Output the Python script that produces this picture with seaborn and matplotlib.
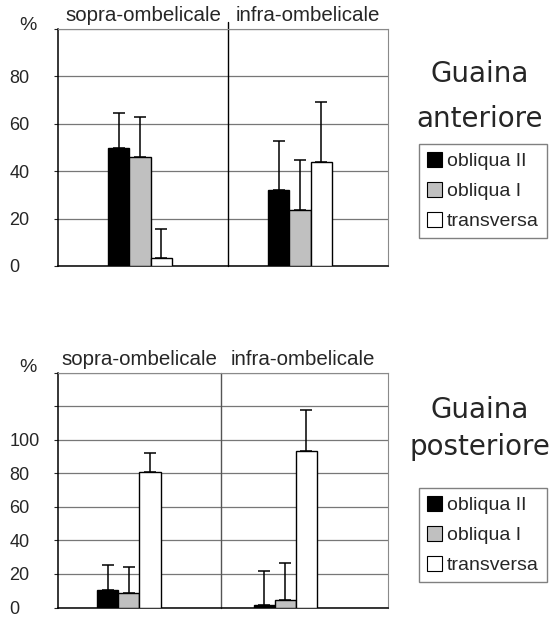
import matplotlib
matplotlib.use("Agg")
import matplotlib.pyplot as plt
import seaborn as sns
import pandas as pd
from matplotlib.patches import Patch

# ---- dati ----
regioni = ["sopra-ombelicale", "infra-ombelicale"]
fibre = ["obliqua II", "obliqua I", "transversa"]

# Guaina anteriore: % medie e deviazione (solo verso l'alto)
ant_sopra = [50.0, 46.0, 3.4]
ant_infra = [32.0, 23.7, 44.0]
ant_err_sopra = [14.5, 16.7, 12.2]
ant_err_infra = [20.7, 21.2, 25.0]

# Guaina posteriore
post_sopra = [10.4, 8.6, 80.6]
post_infra = [1.5, 4.7, 93.5]
post_err_sopra = [14.8, 15.8, 11.7]
post_err_infra = [20.4, 21.7, 24.0]

colori = {"obliqua II": "black", "obliqua I": "#c0c0c0", "transversa": "white"}

W, H = 559, 618

sns.set_style("white")
plt.rcParams["font.family"] = ["Liberation Sans", "DejaVu Sans"]


def crea_df(sopra, infra, err_s, err_i):
    righe = []
    for reg, vals, errs in [(regioni[0], sopra, err_s), (regioni[1], infra, err_i)]:
        for f, v, e in zip(fibre, vals, errs):
            righe.append({"regione": reg, "fibra": f, "valore": v, "err": e})
    return pd.DataFrame(righe)


def pannello(ax, df, ymax, ultimo_label, xlim, divisore, larghezza, div_colore, lab_x):
    sns.barplot(data=df, x="regione", y="valore", hue="fibra", order=regioni,
                hue_order=fibre, palette=colori, saturation=1, width=larghezza,
                gap=0, edgecolor="black", linewidth=1, errorbar=None,
                legend=False, ax=ax, zorder=3)
    # barre d'errore verso l'alto
    for cont, f in zip(ax.containers, fibre):
        for bar in cont:
            x = bar.get_x() + bar.get_width() / 2
            h = bar.get_height()
            reg = regioni[int(round(x))]
            e = df.loc[(df.regione == reg) & (df.fibra == f), "err"].iloc[0]
            ax.errorbar(x, h, yerr=[[0], [e]], fmt="none", ecolor="black",
                        elinewidth=1.1, capsize=4.2, capthick=1.1, zorder=4)

    ax.set_xlim(xlim)
    ax.set_ylim(0, ymax)
    ticks = list(range(0, ymax + 1, 20))
    ax.set_yticks(ticks)
    ax.set_yticklabels([str(t) if t <= ultimo_label else "" for t in ticks])
    ax.tick_params(axis="y", labelsize=13, length=3, width=0.8, pad=32,
                   direction="out", left=True)
    ax.set_xticks([])
    ax.set_xlabel("")
    ax.set_ylabel("")
    ax.yaxis.grid(True, color="#777777", lw=0.9)
    ax.set_axisbelow(True)
    for s in ["left", "bottom"]:
        ax.spines[s].set_color("black")
        ax.spines[s].set_linewidth(1.1)
    for s in ["top", "right"]:
        ax.spines[s].set_color("#8a8a8a")
        ax.spines[s].set_linewidth(0.8)
    ax.axvline(divisore, color=div_colore, lw=1, ymax=1.03 if div_colore == "black" else 1,
               clip_on=False, zorder=2)
    for reg, xx in zip(regioni, lab_x):
        ax.text(xx, 1.0 + 13.5 / 237, reg, transform=ax.transAxes, ha="center",
                va="center", fontsize=14.8)


fig = plt.figure(figsize=(W / 100, H / 100), dpi=100)

ax1 = fig.add_axes([58 / W, 1 - 266 / H, 330 / W, 237 / H])
pannello(ax1, crea_df(ant_sopra, ant_infra, ant_err_sopra, ant_err_infra),
         100, 80, (-0.5125, 1.55), 0.55, 0.394, "black", (0.258, 0.758))

ax2 = fig.add_axes([58 / W, 1 - 607.5 / H, 330 / W, 235 / H])
pannello(ax2, crea_df(post_sopra, post_infra, post_err_sopra, post_err_infra),
         140, 100, (-0.455, 1.66), 0.59, 0.404, "#555555", (0.247, 0.742))

# simbolo %
fig.text(28 / W, 1 - 25 / H, "%", ha="center", va="center", fontsize=14)
fig.text(28 / W, 1 - 367 / H, "%", ha="center", va="center", fontsize=14)

# titoli a destra
titolo_font = dict(ha="center", va="baseline", fontsize=20, family="DejaVu Sans")
fig.text(480 / W, 1 - 82 / H, "Guaina", **titolo_font)
fig.text(480 / W, 1 - 127 / H, "anteriore", **titolo_font)
fig.text(480 / W, 1 - 418 / H, "Guaina", **titolo_font)
fig.text(480 / W, 1 - 455 / H, "posteriore", **titolo_font)

# legende
maniglie = [Patch(facecolor=colori[f], edgecolor="black", lw=0.8, label=f) for f in fibre]
for ytop in (144, 488):
    fig.legend(handles=maniglie, loc="upper left",
               bbox_to_anchor=(419 / W, 1 - ytop / H), frameon=True, fancybox=False,
               edgecolor="#808080", framealpha=1, fontsize=14, handlelength=0.8,
               handleheight=0.8, handletextpad=0.25, labelspacing=0.62,
               borderpad=0.4, borderaxespad=0)

# etichette dell'asse y allineate a sinistra (dopo il primo disegno)
fig.canvas.draw()
for ax in (ax1, ax2):
    for tick in ax.yaxis.get_major_ticks():
        tick.label1.set_horizontalalignment("left")

fig.savefig("out.png", dpi=100)
